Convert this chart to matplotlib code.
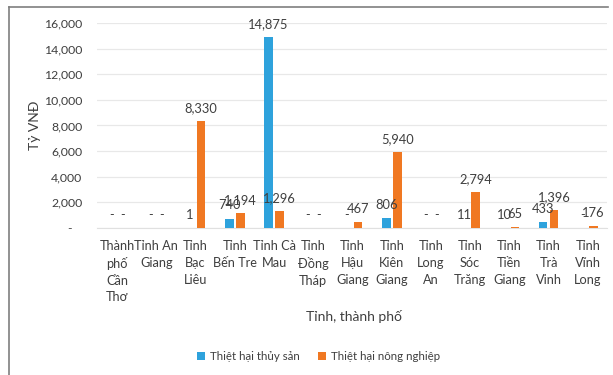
import matplotlib
matplotlib.use("Agg")
import matplotlib.pyplot as plt
from matplotlib.lines import Line2D
from matplotlib.ticker import FuncFormatter
import numpy as np

plt.rcParams['font.family'] = ['Lato', 'DejaVu Sans']

provinces = ["Thành\nphố\nCần\nThơ", "Tỉnh An\nGiang", "Tỉnh\nBạc\nLiêu", "Tỉnh\nBến Tre",
             "Tỉnh Cà\nMau", "Tỉnh\nĐồng\nTháp", "Tỉnh\nHậu\nGiang", "Tỉnh\nKiên\nGiang",
             "Tỉnh\nLong\nAn", "Tỉnh\nSóc\nTrăng", "Tỉnh\nTiền\nGiang", "Tỉnh\nTrà\nVinh",
             "Tỉnh\nVĩnh\nLong"]
thuy_san = [0, 0, 1, 740, 14875, 0, 0, 806, 0, 11, 10, 433, 0]
nong_nghiep = [0, 0, 8330, 1194, 1296, 0, 467, 5940, 0, 2794, 65, 1396, 176]
series_names = ["Thiệt hại thủy sản", "Thiệt hại nông nghiệp"]
colors = ["#2EA2DC", "#F07822"]

fig = plt.figure(figsize=(6.13, 3.75), dpi=100)
ax = fig.add_axes([0.159, 0.392, 0.832, 0.547])

x = np.arange(len(provinces))
w = 0.22
off = 0.14
text_color = "#3F3F3F"

def fmt(v):
    return "-" if v == 0 else f"{v:,}"

for vals, dx, c, name in [(thuy_san, -off, colors[0], series_names[0]),
                          (nong_nghiep, off, colors[1], series_names[1])]:
    ax.bar(x + dx, vals, width=w, color=c, label=name, zorder=3)
    for xi, v in zip(x + dx, vals):
        ax.annotate(fmt(v), (xi, v), xytext=(0, 6.5), textcoords="offset points",
                    ha="center", va="baseline", fontsize=9.3, color=text_color, zorder=4)

ax.set_xlim(-0.5, len(provinces) - 0.5)
ax.set_ylim(0, 16000)
ax.set_yticks(np.arange(0, 16001, 2000))
ax.yaxis.set_major_formatter(FuncFormatter(lambda v, p: "-   " if v == 0 else f"{v:,.0f}"))
ax.set_xticks(x)
ax.set_xticklabels(provinces, fontsize=9.2, color=text_color, linespacing=1.45, va="top")
ax.tick_params(axis="y", length=0, labelsize=8.8, labelcolor=text_color, pad=11)
ax.tick_params(axis="x", length=0, labelcolor=text_color, pad=9)
ax.grid(axis="y", color="#E8E8E8", linewidth=0.9, zorder=0)
for s in ["top", "right", "left"]:
    ax.spines[s].set_visible(False)
ax.spines["bottom"].set_color("#E0E0E0")

ax.set_ylabel("Tỷ VNĐ", fontsize=10, color=text_color, labelpad=2)
fig.text(0.577, 0.157, "Tỉnh, thành phố", ha="center", va="center", fontsize=10, color=text_color)

handles, labels = ax.get_legend_handles_labels()
fig.legend(handles, labels, loc="center", bbox_to_anchor=(0.52, 0.05), ncol=2, frameon=False,
           fontsize=8.3, handlelength=0.7, handleheight=0.7, handletextpad=0.4, columnspacing=1.6,
           labelcolor=text_color)

# outer frame (top and left edges)
fig.add_artist(Line2D([8.5 / 613, 608 / 613], [1 - 6.5 / 375, 1 - 6.5 / 375],
                      transform=fig.transFigure, color="#7F7F7F", linewidth=1.2))
fig.add_artist(Line2D([8.5 / 613, 8.5 / 613], [0, 1 - 6.5 / 375],
                      transform=fig.transFigure, color="#7F7F7F", linewidth=1.2))

fig.savefig("out.png", dpi=100, facecolor="white")
